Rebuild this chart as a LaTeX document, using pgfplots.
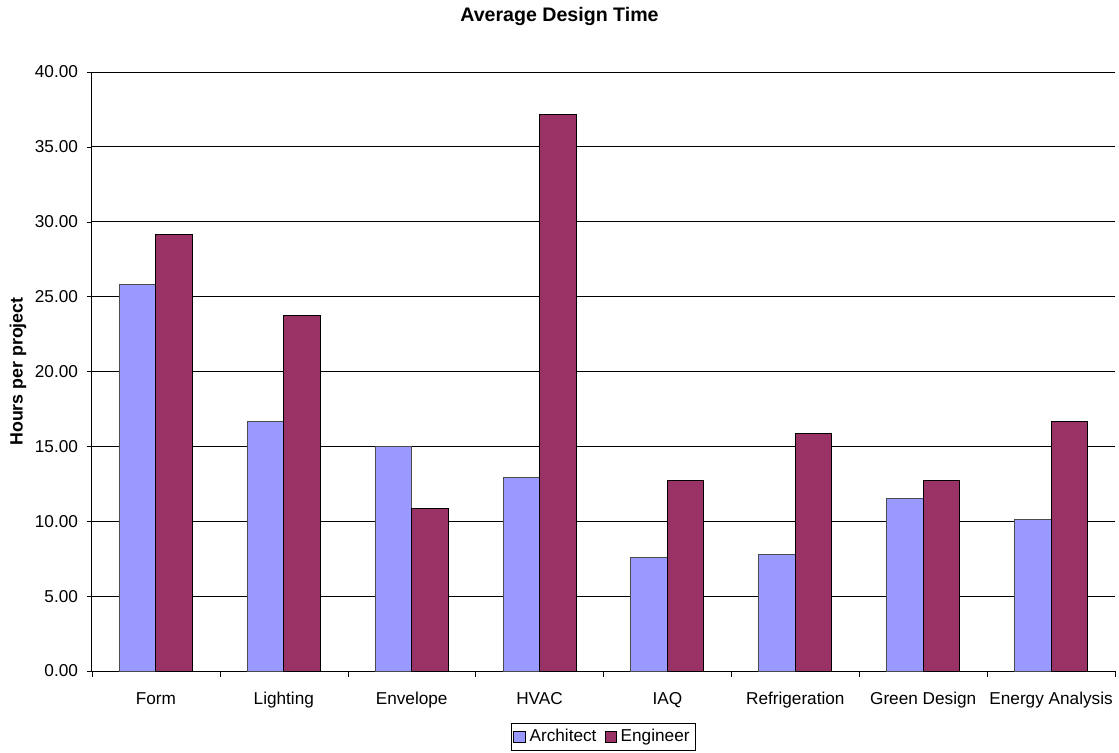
\documentclass[border=0pt]{standalone}
\usepackage{pgfplots}
\pgfplotsset{compat=1.18}
\usepackage{fontspec}
\setmainfont{Liberation Sans}
\definecolor{arch}{HTML}{9999FF}
\definecolor{eng}{HTML}{993366}
\begin{document}
\begin{tikzpicture}
\begin{axis}[
  scale only axis,
  width=511.5pt, height=299.5pt,
  at={(0,0)}, anchor=south west,
  ybar=0pt, bar width=18.25pt,
  xmin=-0.5, xmax=7.5,
  ymin=0, ymax=40,
  ytick={0,5,...,40},
  ymajorgrids, grid style={black, line width=0.4pt},
  xtick={0,...,7},
  xticklabels={Form,Lighting,Envelope,HVAC,IAQ,Refrigeration,Green Design,Energy Analysis},
  major x tick style={draw=none},
  minor xtick={-0.5,0.5,...,7.5},
  minor x tick style={black},
  minor tick length=3pt,
  axis x line*=bottom, axis y line*=left,
  axis line style={black, line width=0.5pt, -},
  tick align=outside,
  major tick length=2.5pt,
  tick style={black},
  xtick pos=bottom, ytick pos=left,
  /pgf/number format/assume math mode=true,
  yticklabel style={/pgf/number format/fixed, /pgf/number format/fixed zerofill, /pgf/number format/precision=2, xshift=-1pt},
  ticklabel style={font=\fontsize{8.6}{10}\selectfont},
  xticklabel style={yshift=-2.3pt, text height=1.6ex, text depth=0.4ex},
  ylabel={\bfseries Hours per project},
  every axis y label/.style={at={(axis description cs:0,0.5)}, xshift=-37pt, rotate=90, anchor=center, font=\fontsize{8.9}{10}\selectfont},
  title={\bfseries Average Design Time},
  every axis title/.style={at={(233.75pt,327.5pt)}, anchor=center, font=\fontsize{9.8}{11}\selectfont},
  legend columns=2,
  legend style={at={(axis description cs:0.5,-0.1102)}, anchor=center, draw=black, line width=0.5pt,
    font=\fontsize{8.6}{10}\selectfont, inner sep=1pt, row sep=0pt,
    /tikz/every even column/.append style={column sep=2pt}},
  legend image code/.code={\draw[#1, draw=black, line width=0.4pt] (0cm,-0.1cm) rectangle (0.2cm,0.1cm);},
]
\addplot[fill=arch, draw=black!70, line width=0.5pt] coordinates {
 (0,25.78) (1,16.69) (2,14.96) (3,12.95) (4,7.61) (5,7.75) (6,11.55) (7,10.15)};
\addplot[fill=eng, draw=black, line width=0.5pt] coordinates {
 (0,29.18) (1,23.77) (2,10.88) (3,37.13) (4,12.69) (5,15.83) (6,12.75) (7,16.69)};
\legend{Architect, Engineer}
\end{axis}
\pgfresetboundingbox
\useasboundingbox (-46pt,-40.5pt) rectangle (513.5pt,335.5pt);
\end{tikzpicture}
\end{document}
